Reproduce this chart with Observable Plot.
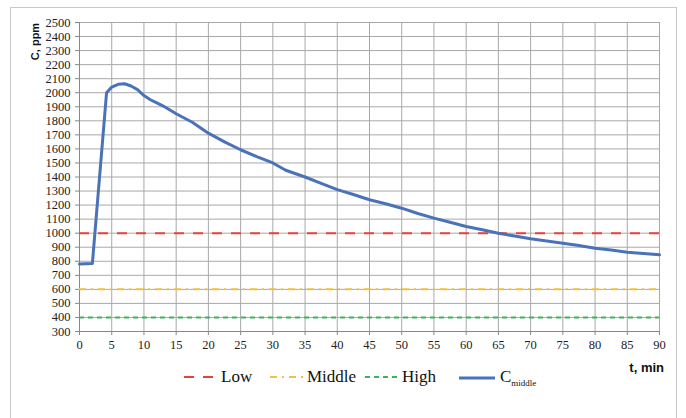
<!DOCTYPE html>
<html>
<head>
<meta charset="utf-8">
<script src="https://cdn.jsdelivr.net/npm/d3@7"></script>
<script src="https://cdn.jsdelivr.net/npm/@observablehq/plot@0.6"></script>
<style>
  body { margin: 0; background: #fff; }
  #frame { position: absolute; left: 10px; top: 7px; width: 667px; height: 420px; border: 1px solid #c8c8c8; box-sizing: border-box; }
  #legend { position: relative; height: 30px; font-family: 'Liberation Serif', serif; font-size: 17px; color: #111; }
  #legend .item { position: absolute; top: 3px; display: flex; align-items: center; font-family: 'Liberation Serif', serif; }
  #legend .item svg { margin-right: 3px; }
  #tlabel { position: absolute; right: 12px; top: -4px; font-family: 'Liberation Sans', Arial, sans-serif; font-weight: bold; font-size: 13px; }
</style>
</head>
<body>
<div id="frame">
  <div id="chart"></div>
  <div id="legend"></div>
</div>
<script>
const times = [0, 1, 2, 4.2, 5, 6, 7, 8, 9, 10, 11, 12, 13, 15, 17.5, 20, 22.5, 25, 27.5, 30, 32, 35, 37.5, 40, 42.5, 45, 47.5, 50, 52.5, 55, 57.5, 60, 62.5, 65, 67.5, 70, 72.5, 75, 77.5, 80, 82.5, 85, 87.5, 90];
const cMiddle = [780, 782, 785, 2000, 2040, 2060, 2064, 2048, 2022, 1980, 1950, 1928, 1905, 1850, 1790, 1712, 1650, 1594, 1545, 1500, 1448, 1400, 1355, 1310, 1275, 1238, 1210, 1178, 1140, 1107, 1078, 1048, 1025, 1000, 980, 960, 945, 929, 912, 893, 880, 864, 855, 846];
const thresholdNames = ["Low", "Middle", "High"];
const thresholdValues = [1000, 600, 400];
const xTicks = d3.range(0, 91, 5);
const yTicks = d3.range(300, 2501, 100);

const series = times.map((t, i) => ({t, c: cMiddle[i]}));
const styles = {
  Low: {stroke: "#e8413a", dash: "10,9", width: 2},
  Middle: {stroke: "#f3c13d", dash: "7,5,2,5", width: 2},
  High: {stroke: "#3cb55a", dash: "5,4", width: 2}
};
const thresholds = thresholdNames.map((n, i) => ({name: n, v: thresholdValues[i]}));
const serif = "Liberation Serif";

const chart = Plot.plot({
  width: 665,
  height: 356,
  marginLeft: 68,
  marginRight: 17,
  marginTop: 14,
  marginBottom: 33,
  style: {fontSize: "12px", color: "#222", background: "#fff", fontFamily: "'Liberation Serif', serif"},
  x: {domain: [0, 90], ticks: xTicks, label: null},
  y: {domain: [300, 2500], ticks: yTicks, label: null},
  marks: [
    Plot.gridX(xTicks, {stroke: "#a8a8a8", strokeOpacity: 1, strokeWidth: 1}),
    Plot.gridY(yTicks, {stroke: "#a8a8a8", strokeOpacity: 1, strokeWidth: 1}),
    Plot.ruleX([0], {stroke: "#888"}),
    Plot.ruleY([300], {stroke: "#888"}),
    ...thresholds.map(d => Plot.ruleY([d.v], {stroke: styles[d.name].stroke, strokeWidth: styles[d.name].width, strokeDasharray: styles[d.name].dash})),
    Plot.line(series, {x: "t", y: "c", stroke: "#4a72b8", strokeWidth: 3, strokeLinejoin: "round"}),
    Plot.axisX(xTicks, {tickSize: 4, tickPadding: 5, stroke: "#888", fill: "#222", fontSize: 12.5, fontFamily: serif, tickFormat: d3.format("d")}),
    Plot.axisY(yTicks, {tickSize: 4, tickPadding: 5, stroke: "#888", fill: "#222", fontSize: 12.5, fontFamily: serif, tickFormat: d3.format("d")}),
    Plot.text(["C, ppm"], {frameAnchor: "top-left", dx: -48, dy: 19, rotate: -90, textAnchor: "middle", fontFamily: "Liberation Sans", fontWeight: "bold", fontSize: 11, fill: "#111"})
  ]
});
document.getElementById("chart").appendChild(chart);

// Legend
const legend = document.getElementById("legend");
const legendPos = {Low: 173, Middle: 259, High: 354};
thresholds.forEach(d => {
  const s = styles[d.name];
  const item = document.createElement("div");
  item.className = "item";
  item.style.left = legendPos[d.name] + "px";
  item.innerHTML = `<svg width="34" height="10"><line x1="0" x2="34" y1="5" y2="5" stroke="${s.stroke}" stroke-width="2" stroke-dasharray="${s.dash}"/></svg><span>${d.name}</span>`;
  legend.appendChild(item);
});
const cItem = document.createElement("div");
cItem.className = "item";
cItem.style.left = "448px";
cItem.innerHTML = `<svg width="36" height="10"><line x1="0" x2="36" y1="5" y2="5" stroke="#4a72b8" stroke-width="3"/></svg><span style="margin-left:2px">C<sub style="font-size:9px">middle</sub></span>`;
legend.appendChild(cItem);
const tl = document.createElement("div");
tl.id = "tlabel";
tl.textContent = "t, min";
legend.appendChild(tl);
</script>
</body>
</html>
